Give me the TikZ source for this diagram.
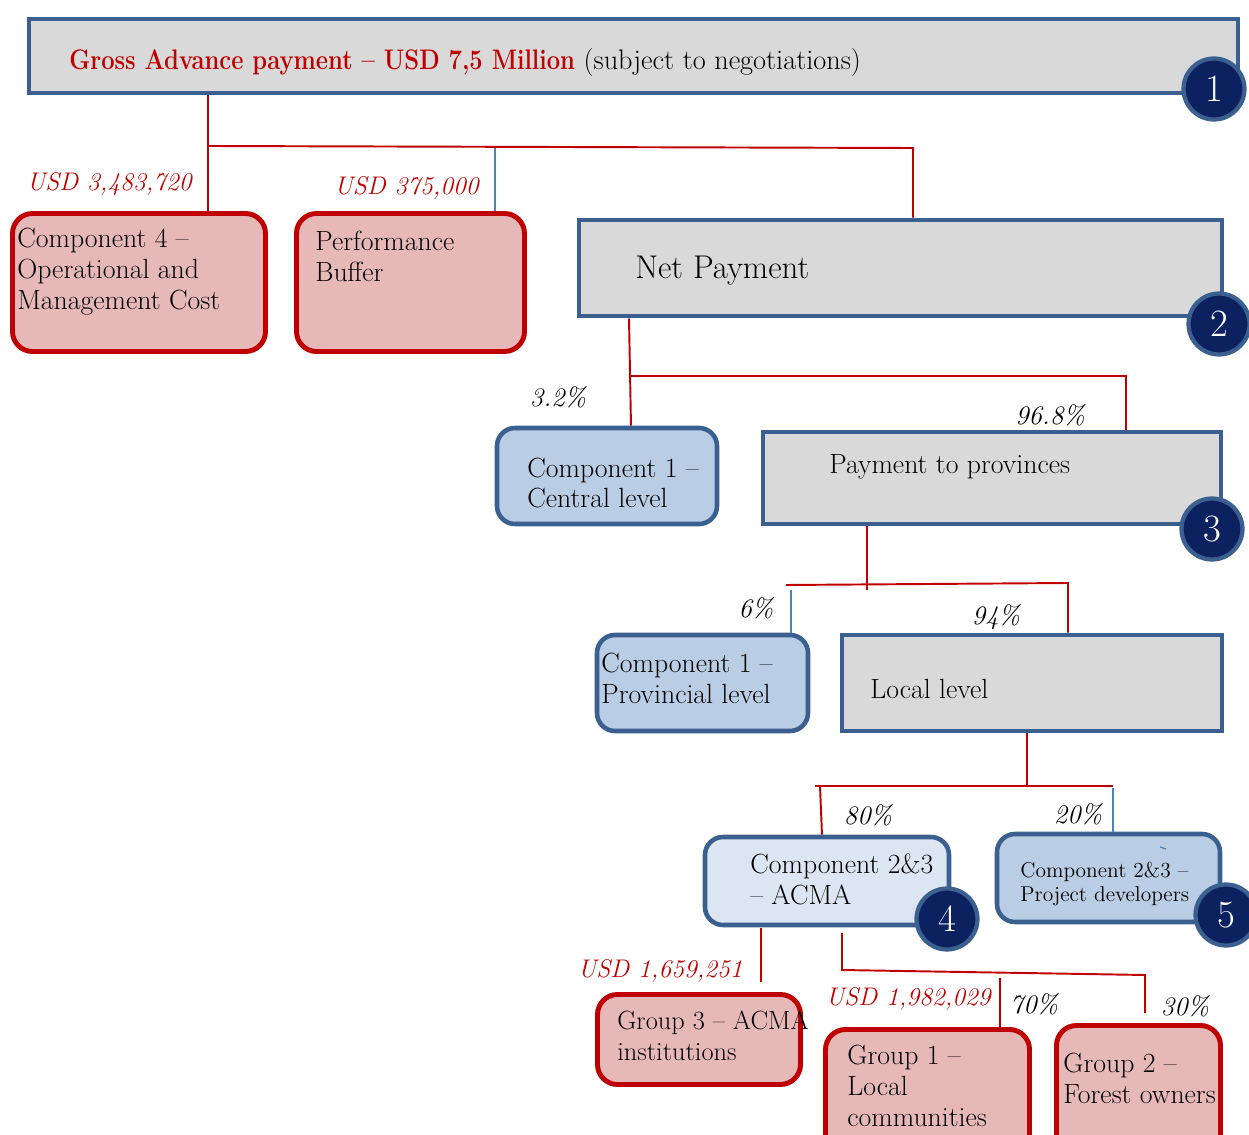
\documentclass[tikz,border=0pt]{standalone}
\usepackage{graphicx}
\usetikzlibrary{fit}
\definecolor{dred}{HTML}{C00000}
\definecolor{pinkfill}{HTML}{E6B9B8}
\definecolor{bborder}{HTML}{3B6090}
\definecolor{grayfill}{HTML}{D9D9D9}
\definecolor{lblue}{HTML}{B9CDE5}
\definecolor{llblue}{HTML}{DCE6F2}
\definecolor{navy}{HTML}{0B2160}
\definecolor{thinblue}{HTML}{4F81BD}
\tikzset{
  graybox/.style={draw=bborder, line width=2.6pt, fill=grayfill, inner sep=0pt},
  bluebox/.style={draw=bborder, line width=2.6pt, fill=lblue, rounded corners=0.36cm, inner sep=0pt},
  paleblue/.style={bluebox, fill=llblue},
  redbox/.style={draw=dred, line width=2.8pt, fill=pinkfill, rounded corners=0.4cm, inner sep=0pt},
  badge/.style={circle, draw=bborder, line width=2.4pt, fill=navy, text=white, minimum size=1.22cm, inner sep=0pt, font=\fontsize{22}{22}\selectfont},
  body/.style={align=left, inner sep=0pt, font=\fontsize{15.8}{17.6}\selectfont},
  small/.style={align=left, inner sep=0pt, font=\fontsize{12.2}{14.2}\selectfont},
  amount/.style={inner sep=0pt, text=dred, font=\fontsize{14.5}{14.5}\selectfont\itshape},
  pct/.style={inner sep=0pt, font=\fontsize{15.2}{15.2}\selectfont\itshape},
  redline/.style={draw=dred, line width=1.1pt},
  blueline/.style={draw=thinblue, line width=1.1pt},
}
\begin{document}
\begin{tikzpicture}[x=0.02cm, y=-0.02cm]
\useasboundingbox (0,0) rectangle (1249,1135);
\clip (0,0) rectangle (1249,1135);

% boxes
\node[graybox, fit={(29,19)(1238,93)}] (top) {};
\node[redbox, fit={(12.5,213.5)(265.5,351.5)}] (c4) {};
\node[redbox, fit={(296.5,213.5)(524.5,351.5)}] (pb) {};
\node[graybox, fit={(579,220)(1222,316)}] (net) {};
\node[bluebox, fit={(497,428)(717,524)}] (c1c) {};
\node[graybox, fit={(763,432)(1221,524)}] (prov) {};
\node[bluebox, fit={(597,635)(808,731)}] (c1p) {};
\node[graybox, fit={(842,635)(1222,731)}] (loc) {};
\node[paleblue, fit={(705,837)(949,925)}] (acma) {};
\node[bluebox, fit={(997,834)(1220,922)}] (pd) {};
\node[redbox, fit={(597.5,994.5)(800.5,1084.5)}] (g3) {};
\node[redbox, fit={(825.5,1029.5)(1029.5,1160)}] (g1) {};
\node[redbox, fit={(1056.5,1025.5)(1220.5,1160)}] (g2) {};

% box texts
\node[anchor=base west, inner sep=0pt, font=\fontsize{16.1}{16.1}\selectfont] (toptext) at (69,70)
  {\textcolor{dred}{\scalebox{0.84}[1]{\bfseries Gross Advance payment -- USD 7,5 Million}} (subject to negotiations)};
\node[body, anchor=west] (c4t) at (17,272) {Component 4 --\\Operational and\\Management Cost};
\node[body, anchor=west] (pbt) at (315,256) {Performance\\Buffer};
\node[anchor=west, inner sep=0pt, font=\fontsize{18.7}{18.7}\selectfont] (nett) at (635,271) {Net Payment};
\node[body, anchor=west] (c1ct) at (527,483) {Component 1 --\\Central level};
\node[body, anchor=west] (provt) at (829,467) {Payment to provinces};
\node[body, anchor=west] (c1pt) at (601,678) {Component 1 --\\Provincial level};
\node[body, anchor=west] (loct) at (870,689) {Local level};
\node[body, anchor=west] (acmat) at (750,879) {Component 2\&3\\-- ACMA};
\node[small, anchor=west] (pdt) at (1020,884) {Component 2\&3 --\\Project developers};
\node[body, anchor=west, font=\fontsize{15}{17.6}\selectfont] (g3t) at (617,1036) {Group 3 -- ACMA\\institutions};
\node[body, anchor=west] (g1t) at (847,1086) {Group 1 --\\Local\\communities};
\node[body, anchor=west] (g2t) at (1063,1078) {Group 2 --\\Forest owners};

% amounts and shares
\node[amount, anchor=east] (a1) at (192,184) {USD 3,483,720};
\node[amount, anchor=east] (a2) at (479,188) {USD 375,000};
\node[pct] (p1) at (558,397) {3.2\%};
\node[pct] (p2) at (1050,415) {96.8\%};
\node[pct] (p3) at (756,608) {6\%};
\node[pct] (p4) at (996,617) {94\%};
\node[pct] (p5) at (868,815) {80\%};
\node[pct] (p6) at (1078,814) {20\%};
\node[amount, anchor=east] (a3) at (743,971) {USD 1,659,251};
\node[amount, anchor=east] (a4) at (991,999) {USD 1,982,029};
\node[pct] (p7) at (1034,1004) {70\%};
\node[pct] (p8) at (1185,1006) {30\%};

% junction points of the tree
\coordinate (j1) at (208,146);
\coordinate (j1r) at (913,148);
\coordinate (j1b) at (495,148);
\coordinate (j2) at (630,376);
\coordinate (j2r) at (1126,376);
\coordinate (j3) at (867,584);
\coordinate (j3l) at (786,585);
\coordinate (j3r) at (1068,583);
\coordinate (j3b) at (791,590);
\coordinate (j4) at (1027,786);
\coordinate (j4l) at (815,786);
\coordinate (j4r) at (1113,786);
\coordinate (j4a) at (820,786);
\coordinate (j5) at (842,933);
\coordinate (j5a) at (842,970);
\coordinate (j5b) at (1145,975);
\coordinate (j5c) at (1000,978);
\coordinate (j6) at (761,928);

% connectors
\draw[redline] (top.south -| j1) -- (c4.north -| j1);
\draw[redline] (j1) -- (j1r) -- (net.north -| j1r);
\draw[blueline] (j1b) -- (pb.north -| j1b);
\draw[redline] (net.south -| 629,0) -- (c1c.north -| 631,0);
\draw[redline] (j2) -- (j2r) -- (prov.north -| j2r);
\draw[redline] (prov.south -| j3) -- (867,590);
\draw[redline] (j3l) -- (j3r) -- (loc.north -| j3r);
\draw[blueline] (j3b) -- (c1p.north -| j3b);
\draw[redline] (loc.south -| j4) -- (j4);
\draw[redline] (j4l) -- (j4r);
\draw[redline] (j4a) -- (acma.north -| 822,0);
\draw[blueline] (1113,788) -- (pd.north -| j4r);
\draw[redline] (j6) -- (761,982);
\draw[redline] (j5) -- (j5a) -- (j5b) -- (1145,1013);
\draw[redline] (j5c) -- (g1.north -| j5c);
\draw[blueline, line width=0.8pt] (1160,847) -- (1166,849);

% numbered badges
\node[badge] (n1) at (1214,89) {1};
\node[badge] (n2) at (1219,324) {2};
\node[badge] (n3) at (1212,529) {3};
\node[badge] (n4) at (947,919) {4};
\node[badge] (n5) at (1226,915) {5};
\end{tikzpicture}
\end{document}
